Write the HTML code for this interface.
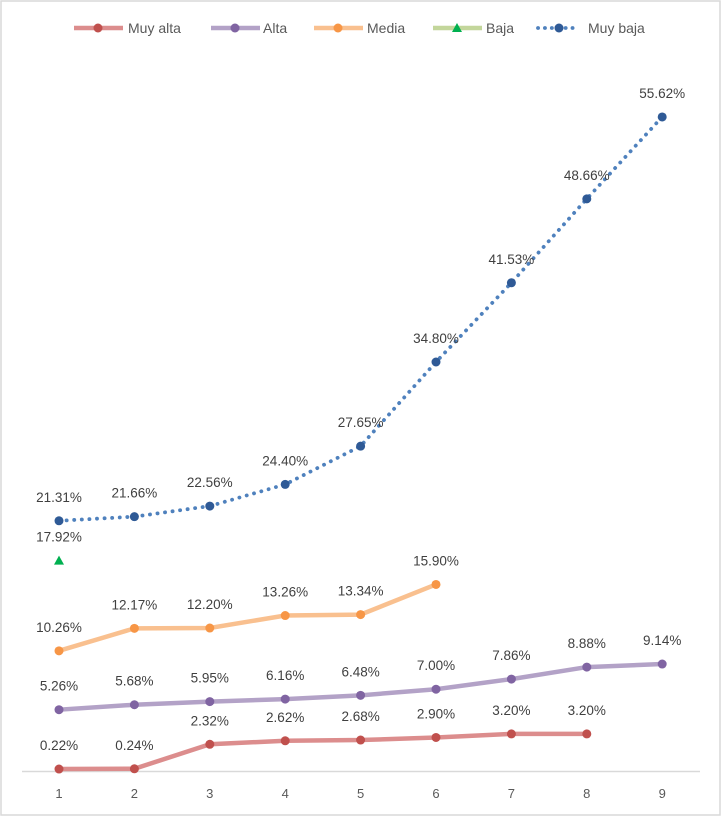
<!DOCTYPE html>
<html><head><meta charset="utf-8"><style>
html,body{margin:0;padding:0;background:#fff;}
svg{display:block;font-family:"Liberation Sans",sans-serif;}
</style></head><body>
<svg id="c" width="722" height="817">
<rect x="1" y="1" width="719" height="814" fill="#fff" stroke="#d9d9d9" stroke-width="1.5"/>
</svg>
<script>
const categories=[1,2,3,4,5,6,7,8,9];
const muyAlta=[0.22,0.24,2.32,2.62,2.68,2.90,3.20,3.20];
const alta=[5.26,5.68,5.95,6.16,6.48,7.00,7.86,8.88,9.14];
const media=[10.26,12.17,12.20,13.26,13.34,15.90];
const baja=[17.92];
const muyBaja=[21.31,21.66,22.56,24.40,27.65,34.80,41.53,48.66,55.62];
const NS='http://www.w3.org/2000/svg';
const svg=document.getElementById('c');
function xs(i){return 59+i*75.4;}
function ys(v){return 771.6-v*11.77;}
function mk(t,a){const e=document.createElementNS(NS,t);for(const k in a)e.setAttribute(k,a[k]);svg.appendChild(e);return e;}
const ax=mk('line',{x1:22,x2:700,y1:771.5,y2:771.5,stroke:'#d9d9d9','stroke-width':1.5});


categories.forEach((c,i)=>{const t=mk('text',{x:xs(i),y:798,'text-anchor':'middle','font-size':13,fill:'#595959'});t.textContent=c;

});
const series=[
{name:'muy-alta',d:muyAlta,line:'#dc8d8d',dot:'#c0504d',w:4.5,dash:null},
{name:'alta',d:alta,line:'#b3a2c7',dot:'#8064a2',w:4.5,dash:null},
{name:'media',d:media,line:'#f9c08f',dot:'#f79646',w:4.5,dash:null},
{name:'baja',d:baja,line:'#c3d69b',dot:'#00b050',w:4.5,dash:null,tri:true},
{name:'muy-baja',d:muyBaja,line:'#4f81bd',dot:'#2f5a96',w:3.8,dash:'0.1 7.5'}];
series.forEach(s=>{
 const pts=s.d.map((v,i)=>xs(i)+','+ys(v)).join(' ');
 if(s.d.length>1){const p=mk('polyline',{points:pts,fill:'none',stroke:s.line,'stroke-width':s.w,'stroke-dasharray':s.dash||'none','stroke-linecap':s.dash?'round':'butt'});
 
 }
 s.d.forEach((v,i)=>{
  let m;
  if(s.tri){const x=xs(i),y=ys(v);m=mk('polygon',{points:`${x},${y-5} ${x-5},${y+4} ${x+5},${y+4}`,fill:s.dot});}
  else m=mk('circle',{cx:xs(i),cy:ys(v),r:4.5,fill:s.dot});
  
  
  const t=mk('text',{x:xs(i),y:ys(v)-19,'text-anchor':'middle','font-size':13.5,fill:'#404040'});
  t.textContent=v.toFixed(2)+'%';
  
  
 });
});
const leg=[['Muy alta',0,73,128],['Alta',1,210,263],['Media',2,313,367],['Baja',3,432,486],['Muy baja',4,537,588]];
leg.forEach(([lab,k,x,tx])=>{
 const s=series[k];
 const g=mk('g',{});
 
 
 const l=document.createElementNS(NS,'line');
 const a={x1:x+1,x2:x+50,y1:28,y2:28,stroke:s.line,'stroke-width':s.w};
 if(s.dash){a['stroke-dasharray']='0.1 6.8';a['stroke-linecap']='round';a.x2=x+36;}
 for(const q in a)l.setAttribute(q,a[q]);g.appendChild(l);
 let m;
 const cx=x+25;
 if(s.tri){m=document.createElementNS(NS,'polygon');m.setAttribute('points',`${cx},${23} ${cx-5},${32} ${cx+5},${32}`);}
 else{m=document.createElementNS(NS,'circle');m.setAttribute('cx',s.dash?x+22:cx);m.setAttribute('cy',28);m.setAttribute('r',4.5);}
 m.setAttribute('fill',s.dot);g.appendChild(m);
 const t=document.createElementNS(NS,'text');t.setAttribute('x',tx);t.setAttribute('y',33);t.setAttribute('font-size',14);t.setAttribute('fill','#595959');t.textContent=lab;g.appendChild(t);
});
</script>
</body></html>
